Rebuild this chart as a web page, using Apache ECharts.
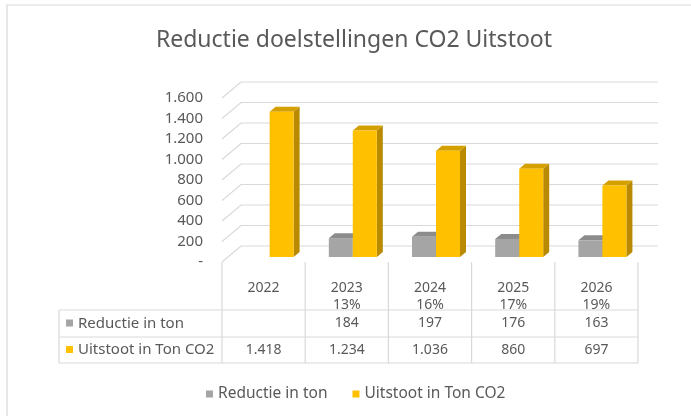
<!DOCTYPE html>
<html>
<head>
<meta charset="utf-8">
<script src="https://cdn.jsdelivr.net/npm/echarts@6/dist/echarts.min.js"></script>
<style>
  html, body { margin: 0; padding: 0; background: #fff; }
  #main { width: 691px; height: 416px; }
</style>
</head>
<body>
<div id="main"></div>
<script>
// data
var years = ["2022", "2023", "2024", "2025", "2026"];
var pctLabels = ["", "13%", "16%", "17%", "19%"];
var reductie = [null, 184, 197, 176, 163];
var uitstoot = [1418, 1234, 1036, 860, 697];
var yTicks = [0, 200, 400, 600, 800, 1000, 1200, 1400, 1600];
var seriesNames = ["Reductie in ton", "Uitstoot in Ton CO2"];

var FONT = "Noto Sans";
var TXT = "#595959";
var LINE = "#d9d9d9";
// depth of the 3d floor (front -> back)
var DX = 19, DY = 16;

function fmt(v) {
  if (v === null || v === undefined) return "";
  if (v === 0) return "-";
  return String(v).replace(/\B(?=(\d{3})+(?!\d))/g, ".");
}

var myChart = echarts.init(document.getElementById("main"));

// 3d-ish bar: front face, side face, top face
function bar3d(side, colors) {
  return function (params, api) {
    var v = api.value(1);
    if (v === null || isNaN(v)) return;
    var base = api.coord([api.value(0), 0]);
    var top = api.coord([api.value(0), v]);
    var w = 24, d = 6, dd = 5;
    var xl = base[0] + 6 + (side === 0 ? -w : 0);
    var y0 = base[1] - 5, y1 = top[1] - 5;
    return {
      type: "group",
      children: [
        { type: "polygon", shape: { points: [[xl + w, y1], [xl + w + d, y1 - dd], [xl + w + d, y0 - dd], [xl + w, y0]] }, style: { fill: colors[2] } },
        { type: "polygon", shape: { points: [[xl, y1], [xl + d, y1 - dd], [xl + w + d, y1 - dd], [xl + w, y1]] }, style: { fill: colors[1] } },
        { type: "rect", shape: { x: xl, y: y1, width: w, height: y0 - y1 }, style: { fill: colors[0] } }
      ]
    };
  };
}

function gridLine3d(params, api) {
  var cs = params.coordSys;
  var y = api.coord([0, api.value(1)])[1];
  return {
    type: "polyline",
    shape: { points: [[cs.x, y], [cs.x + DX, y - DY], [cs.x + cs.width + DX + 1, y - DY]] },
    style: { stroke: LINE, lineWidth: 1.2, fill: null }
  };
}

var grayCols = ["#a5a5a5", "#8c8c8c", "#7c7c7c"];
var goldCols = ["#ffc000", "#d4a000", "#b98a00"];

myChart.setOption({
  animation: false,
  textStyle: { fontFamily: FONT },
  title: {
    text: "Reductie doelstellingen CO2 Uitstoot",
    left: 349,
    top: 24,
    textAlign: "center",
    textStyle: { fontFamily: FONT, fontSize: 23, fontWeight: "normal", color: TXT }
  },
  legend: {
    left: 201,
    top: 381,
    icon: "rect",
    itemWidth: 7,
    itemHeight: 7,
    itemGap: 25,
    data: seriesNames,
    textStyle: { fontFamily: FONT, fontSize: 15.5, color: TXT }
  },
  grid: { left: 222, right: 53, top: 98, bottom: 154 },
  xAxis: {
    type: "category",
    data: years,
    axisLine: { show: false },
    axisTick: { show: false },
    splitLine: { show: false },
    axisLabel: {
      margin: 18,
      lineHeight: 17,
      fontSize: 14,
      color: TXT,
      fontFamily: FONT,
      formatter: function (val, idx) {
        return pctLabels[idx] ? val + "\n" + pctLabels[idx] : val;
      }
    }
  },
  yAxis: {
    type: "value",
    min: 0,
    max: 1600,
    interval: 200,
    axisLine: { show: false },
    axisTick: { show: false },
    splitLine: { show: false },
    axisLabel: { margin: 19, fontSize: 15, color: TXT, fontFamily: FONT, formatter: fmt }
  },
  series: [
    {
      type: "custom",
      name: "grid",
      silent: true,
      z: 1,
      renderItem: gridLine3d,
      data: yTicks.map(function (v) { return [0, v]; })
    },
    {
      type: "custom",
      name: seriesNames[0],
      z: 3,
      itemStyle: { color: grayCols[0] },
      renderItem: bar3d(0, grayCols),
      data: reductie.map(function (v, i) { return [i, v]; })
    },
    {
      type: "custom",
      name: seriesNames[1],
      z: 4,
      itemStyle: { color: goldCols[0] },
      renderItem: bar3d(1, goldCols),
      data: uitstoot.map(function (v, i) { return [i, v]; })
    }
  ]
});

// data table under the axis, placed from the category axis
var left0 = myChart.convertToPixel({ gridIndex: 0 }, [0, 0]);
var c0 = myChart.convertToPixel({ xAxisIndex: 0 }, 0);
var c1 = myChart.convertToPixel({ xAxisIndex: 0 }, 1);
var band = c1 - c0;
var xStart = c0 - band / 2;
var xEnd = xStart + band * years.length;
var yFloor = left0[1];
var tableLeft = 59;
var rowTops = [310, 337, 363];
var rows = [reductie, uitstoot];
var g = [];

function line(x1, y1, x2, y2) {
  g.push({ type: "line", silent: true, shape: { x1: x1, y1: y1, x2: x2, y2: y2 }, style: { stroke: LINE, lineWidth: 1.2 } });
}

for (var k = 0; k <= years.length; k++) {
  line(xStart + k * band, yFloor, xStart + k * band, rowTops[2]);
}
line(tableLeft, rowTops[0], tableLeft, rowTops[2]);
rowTops.forEach(function (y) { line(tableLeft, y, xEnd, y); });

rows.forEach(function (row, r) {
  var yc = (rowTops[r] + rowTops[r + 1]) / 2;
  g.push({ type: "rect", silent: true, shape: { x: 66, y: yc - 4, width: 7, height: 7 }, style: { fill: r === 0 ? grayCols[0] : goldCols[0] } });
  g.push({ type: "text", silent: true, x: 78, y: yc, style: { text: seriesNames[r], fill: TXT, font: "15px " + FONT, textAlign: "left", textVerticalAlign: "middle" } });
  row.forEach(function (v, i) {
    g.push({ type: "text", silent: true, x: xStart + band * (i + 0.5), y: yc, style: { text: fmt(v), fill: TXT, font: "14px " + FONT, textAlign: "center", textVerticalAlign: "middle" } });
  });
});

// light frame of the chart area
line(6, 5, 691, 5);
line(7, 5, 7, 416);

myChart.setOption({ graphic: g });
</script>
</body>
</html>
